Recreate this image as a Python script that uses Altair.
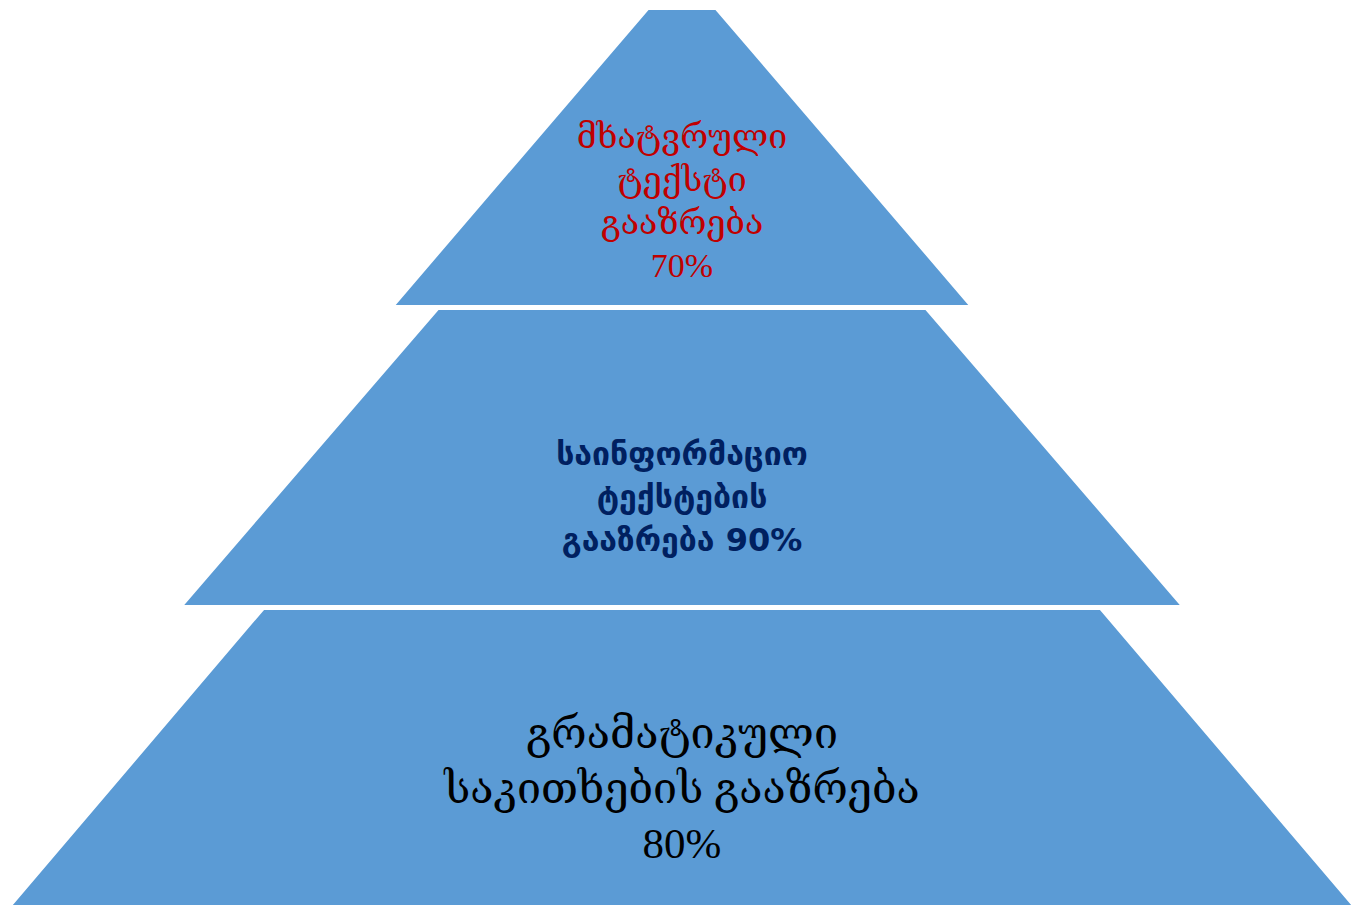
import altair as alt
import pandas as pd

# ---- data ----
levels = ["top", "middle", "bottom"]
labels = [
    "მხატვრული\nტექსტი\nგააზრება\n70%",
    "საინფორმაციო\nტექსტების\nგააზრება 90%",
    "გრამატიკული\nსაკითხების გააზრება\n80%",
]
percent = [70, 90, 80]

# pyramid geometry (drawing units)
center_x = 682
top_y = [9, 309, 609]
bottom_y = [306, 606, 908]
top_width = [68, 488, 837]
bottom_width = [577, 1000, 1346]
label_y = [202, 498, 790]

W, H = 1364, 905

rows = []
for i, lv in enumerate(levels):
    rows.append({"level": lv, "y": top_y[i], "xl": center_x - top_width[i] / 2, "xr": center_x + top_width[i] / 2})
    rows.append({"level": lv, "y": bottom_y[i], "xl": center_x - bottom_width[i] / 2, "xr": center_x + bottom_width[i] / 2})
shapes = pd.DataFrame(rows)

texts = pd.DataFrame({"level": levels, "label": labels, "x": [center_x] * 3, "y": label_y, "pct": percent})

xs = alt.Scale(domain=[0, W])
ys = alt.Scale(domain=[H, 0])

area = alt.Chart(shapes).mark_area(
    orient="horizontal", color="#5b9bd5", stroke="white", strokeWidth=2
).encode(
    y=alt.Y("y:Q", scale=ys, axis=None),
    x=alt.X("xl:Q", scale=xs, axis=None, stack=None),
    x2="xr:Q",
    detail="level:N",
)

def text_layer(lv, color, size, weight, font, lh, nlines):
    return alt.Chart(texts).transform_filter(alt.datum.level == lv).mark_text(
        align="center", baseline="middle", lineBreak="\n", color=color,
        fontSize=size, fontWeight=weight, font=font, lineHeight=lh,
        dy=-(nlines - 1) / 2 * lh,
    ).encode(
        x=alt.X("x:Q", scale=xs, axis=None),
        y=alt.Y("y:Q", scale=ys, axis=None),
        text="label:N",
    )

t1 = text_layer("top", "#c00000", 34, "normal", "Liberation Serif, DejaVu Serif", 43, 4)
t2 = text_layer("middle", "#002060", 32, "bold", "DejaVu Sans, Liberation Sans", 43, 3)
t3 = text_layer("bottom", "#000000", 43, "normal", "Liberation Serif, DejaVu Serif", 55, 3)

chart = alt.layer(area, t1, t2, t3).properties(
    width=W, height=H, padding=0, autosize=alt.AutoSizeParams(type="none"),
    background="white",
).configure_view(stroke=None)

chart.save("out.html", embed_options={"renderer": "svg", "actions": False})
